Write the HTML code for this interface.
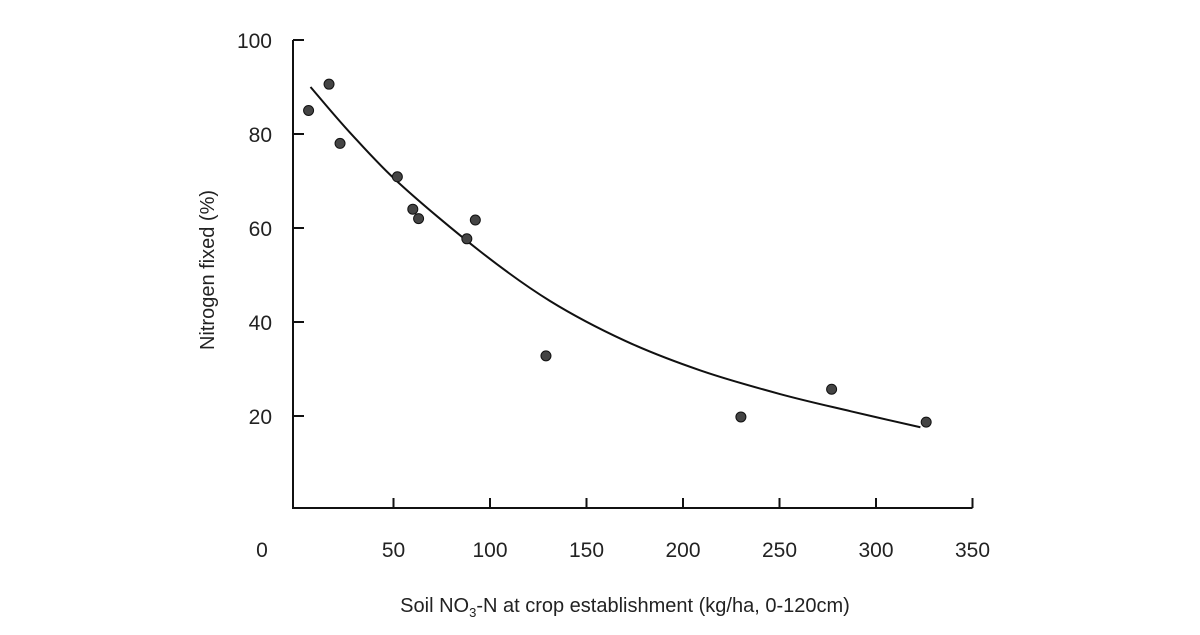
<!DOCTYPE html>
<html><head><meta charset="utf-8"><style>
body{margin:0;background:#fff}
svg text{font-family:"Liberation Sans",sans-serif;fill:#222}
</style></head><body>
<svg width="1200" height="630" viewBox="0 0 1200 630">
<g id="axes"></g>
<g id="marks"></g>
<text x="625" y="612" font-size="20" text-anchor="middle">Soil NO<tspan font-size="13" dy="5">3</tspan><tspan dy="-5">-N at crop establishment (kg/ha, 0-120cm)</tspan></text>
<text transform="translate(214,270) rotate(-90)" font-size="20" text-anchor="middle">Nitrogen fixed (%)</text>
</svg>
<script>
const xTicks=[0,50,100,150,200,250,300,350];
const yTicks=[20,40,60,80,100];
const pointX=[6,16.6,22.3,52,60,63,88,92.4,129,230,277,326];
const pointY=[85,90.6,78,70.9,64,62,57.7,61.7,32.8,19.8,25.7,18.7];
const curveX=[7,27,53,95,131,170,209,250,287,323];
const curveY=[90,80.5,69.5,55,44.5,36,29.7,24.7,21,17.6];
const NS='http://www.w3.org/2000/svg';
const sx=v=>297+v*1.93;
const sy=v=>510-v*4.7;
function mk(tag,attrs,parent){const e=document.createElementNS(NS,tag);for(const k in attrs)e.setAttribute(k,attrs[k]);parent.appendChild(e);return e;}
const ax=document.getElementById('axes'),mg=document.getElementById('marks');
let a=mk('path',{d:`M${sx(0)-4} ${sy(100)}V508H${sx(350)}`,fill:'none',stroke:'#111','stroke-width':2},ax);


yTicks.forEach(v=>{
 const t=mk('line',{x1:sx(0)-4,x2:sx(0)+7,y1:sy(v),y2:sy(v),stroke:'#111','stroke-width':2},ax);
 
 
 const l=mk('text',{x:272,y:sy(v)+8,'font-size':21,'text-anchor':'end'},ax);l.textContent=v;
 
 
});
xTicks.forEach(v=>{
 if(v>0){const t=mk('line',{x1:sx(v),x2:sx(v),y1:508,y2:498,stroke:'#111','stroke-width':2},ax);
 
 }
 const l=mk('text',{x:v===0?262:sx(v),y:557,'font-size':21,'text-anchor':'middle'},ax);l.textContent=v;
 
 
});
let d='';
for(let i=0;i<curveX.length;i++){
 if(i===0){d+=`M${sx(curveX[0])} ${sy(curveY[0])}`;continue;}
 const p0=[sx(curveX[Math.max(i-2,0)]),sy(curveY[Math.max(i-2,0)])],p1=[sx(curveX[i-1]),sy(curveY[i-1])],p2=[sx(curveX[i]),sy(curveY[i])],p3=[sx(curveX[Math.min(i+1,curveX.length-1)]),sy(curveY[Math.min(i+1,curveX.length-1)])];
 d+=`C${p1[0]+(p2[0]-p0[0])/6} ${p1[1]+(p2[1]-p0[1])/6} ${p2[0]-(p3[0]-p1[0])/6} ${p2[1]-(p3[1]-p1[1])/6} ${p2[0]} ${p2[1]}`;
}
const c=mk('path',{d:d,fill:'none',stroke:'#111','stroke-width':2},mg);


pointX.forEach((x,i)=>{
 const p=mk('circle',{cx:sx(x),cy:sy(pointY[i]),r:5,fill:'#444',stroke:'#111','stroke-width':1},mg);
 
 
});
</script>
</body></html>
